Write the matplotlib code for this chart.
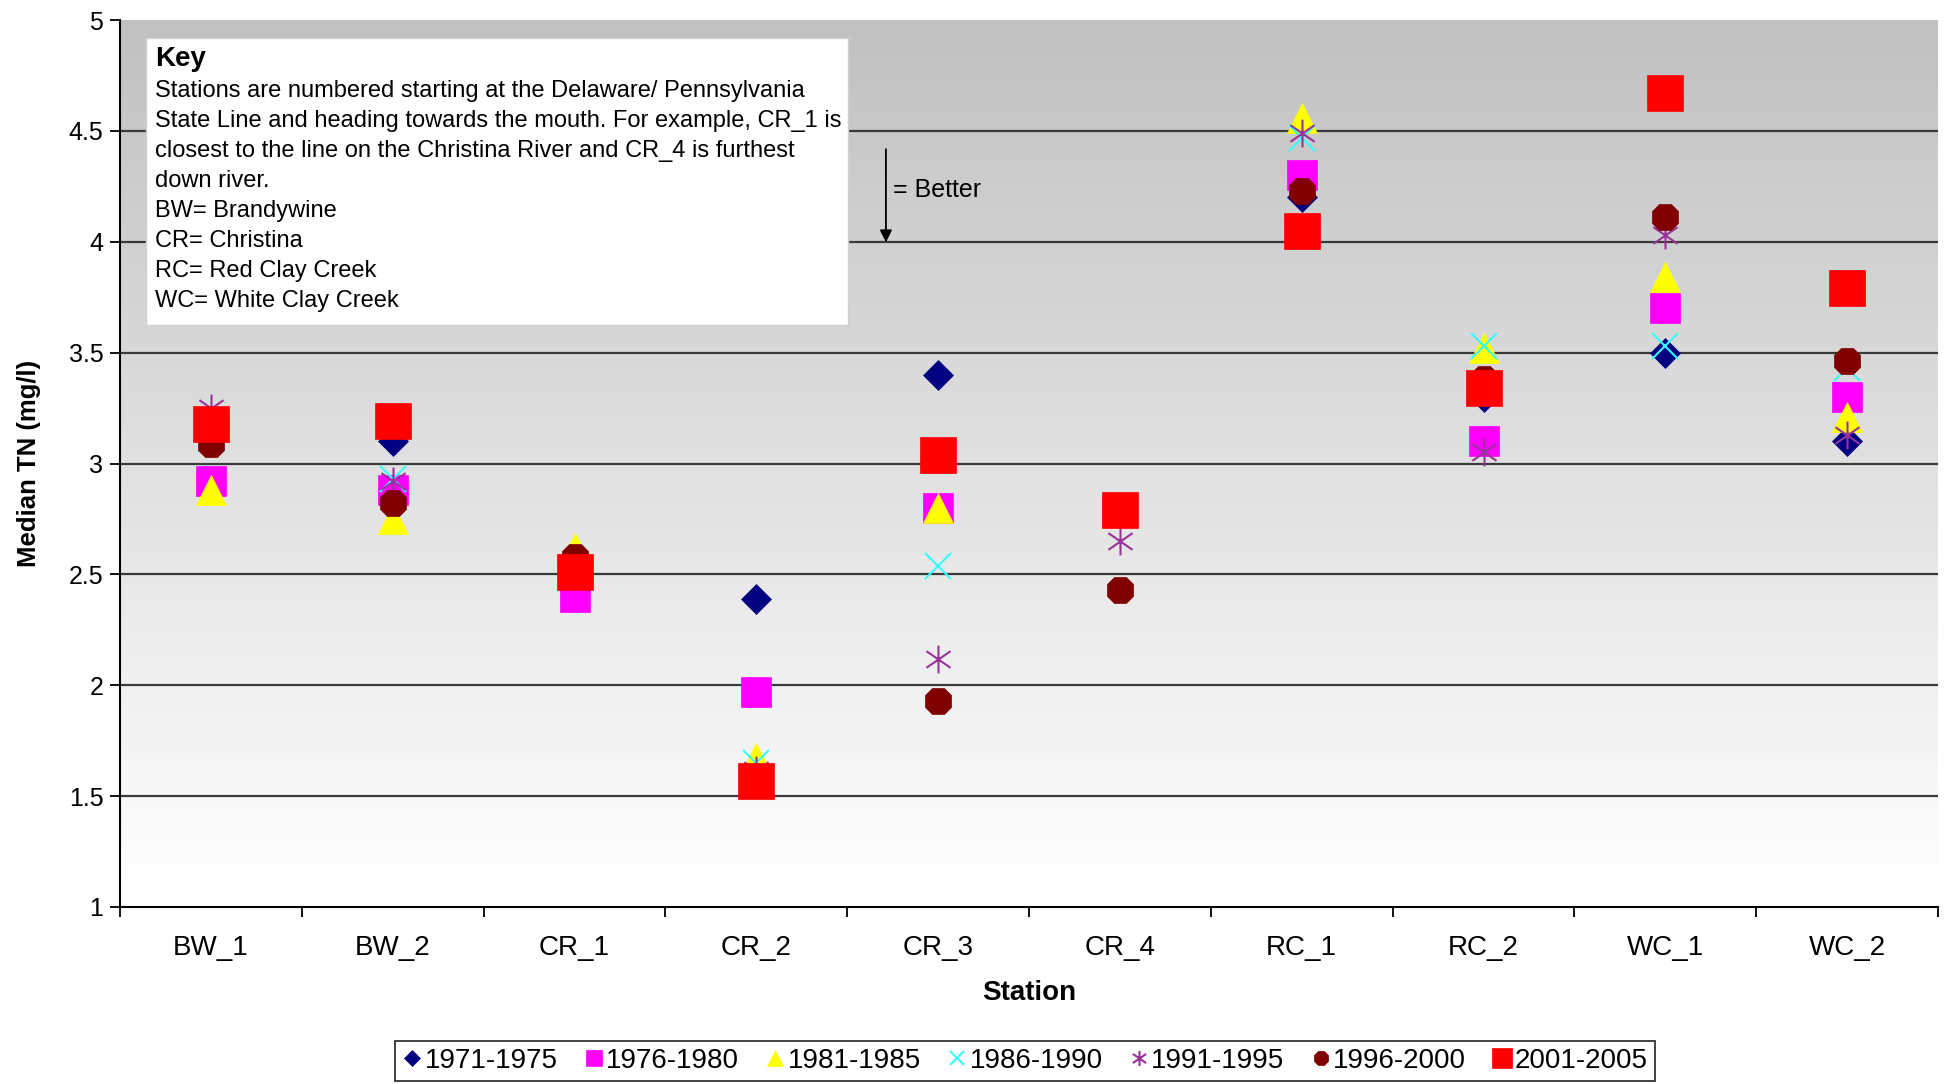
import numpy as np
import matplotlib
matplotlib.use("Agg")
import matplotlib.pyplot as plt
from matplotlib.path import Path
from matplotlib.patches import Rectangle

plt.rcParams['font.family'] = ['Liberation Sans', 'DejaVu Sans']

stations = ["BW_1", "BW_2", "CR_1", "CR_2", "CR_3", "CR_4", "RC_1", "RC_2", "WC_1", "WC_2"]
nan = np.nan
s1971_1975 = [2.90, 3.10, 2.52, 2.39, 3.40, nan, 4.20, 3.30, 3.50, 3.10]
s1976_1980 = [2.92, 2.88, 2.40, 1.97, 2.80, nan, 4.30, 3.10, 3.70, 3.30]
s1981_1985 = [2.88, 2.75, 2.62, 1.67, 2.80, nan, 4.56, 3.52, 3.84, 3.21]
s1986_1990 = [3.11, 2.93, 2.53, 1.65, 2.54, nan, 4.47, 3.53, 3.53, 3.43]
s1991_1995 = [3.25, 2.92, 2.56, 1.62, 2.12, 2.65, 4.49, 3.05, 4.03, 3.13]
s1996_2000 = [3.09, 2.82, 2.58, 1.58, 1.93, 2.43, 4.23, 3.38, 4.11, 3.46]
s2001_2005 = [3.18, 3.19, 2.51, 1.57, 3.04, 2.79, 4.05, 3.34, 4.67, 3.79]
series_labels = ["1971-1975", "1976-1980", "1981-1985", "1986-1990", "1991-1995", "1996-2000", "2001-2005"]
series_values = [s1971_1975, s1976_1980, s1981_1985, s1986_1990, s1991_1995, s1996_2000, s2001_2005]

key_title = "Key"
key_lines = [
    "Stations are numbered starting at the Delaware/ Pennsylvania",
    "State Line and heading towards the mouth. For example, CR_1 is",
    "closest to the line on the Christina River and CR_4 is furthest",
    "down river.",
    "BW= Brandywine",
    "CR= Christina",
    "RC= Red Clay Creek",
    "WC= White Clay Creek",
]

W, H = 1946, 1084
fig = plt.figure(figsize=(W / 100, H / 100), dpi=100)
ax = fig.add_axes([120 / W, 1 - 907 / H, 1818 / W, 887 / H])

x = np.arange(len(stations))
ax.set_xlim(-0.5, len(stations) - 0.5)
ax.set_ylim(1, 5)

# gradient background
grad = np.linspace(1.0, 0.753, 256).reshape(-1, 1)
ax.imshow(grad, extent=(-0.5, len(stations) - 0.5, 1, 5), origin='lower',
          cmap='gray', vmin=0, vmax=1, aspect='auto', zorder=0)

for v in np.arange(1.5, 5.0, 0.5):
    ax.axhline(v, color='#3a3a3a', lw=1.6, zorder=1)

# asterisk marker
ast = Path([(0, -1), (0, 1), (-0.87, -0.6), (0.87, 0.6), (-0.87, 0.6), (0.87, -0.6)],
           [Path.MOVETO, Path.LINETO, Path.MOVETO, Path.LINETO, Path.MOVETO, Path.LINETO])

styles = [
    dict(marker='D', ms=15, mfc='#000080', mec='#000080', mew=0.5),
    dict(marker='s', ms=21, mfc='#FF00FF', mec='#FF00FF', mew=0.5),
    dict(marker='^', ms=22, mfc='#FFFF00', mec='#FFFF00', mew=0.5),
    dict(marker='x', ms=19, mfc='none', mec='#33FFFF', mew=1.5),
    dict(marker=ast, ms=20, mfc='none', mec='#993399', mew=1.5),
    dict(marker='8', ms=21, mfc='#800000', mec='#800000', mew=0.5),
    dict(marker='s', ms=26, mfc='#FF0000', mec='#FF0000', mew=0.5),
]
handles = []
for lab, vals, st in zip(series_labels, series_values, styles):
    h, = ax.plot(x, vals, ls='none', label=lab, zorder=3, **st)
    handles.append(h)

# axes styling
for sp in ['top', 'right']:
    ax.spines[sp].set_visible(False)
ax.spines['left'].set_linewidth(1.5)
ax.spines['bottom'].set_linewidth(1.5)
ax.spines['left'].set_zorder(4)
ax.spines['bottom'].set_zorder(4)

ax.set_yticks(np.arange(1, 5.01, 0.5))
ax.set_yticklabels(["1", "1.5", "2", "2.5", "3", "3.5", "4", "4.5", "5"])
ax.tick_params(axis='y', direction='out', length=7, width=1.3, labelsize=18, pad=5)
ax.set_xticks(x)
ax.set_xticklabels(stations)
ax.set_xticks(np.arange(-0.5, len(stations), 1.0), minor=True)
ax.tick_params(axis='x', which='major', length=0, labelsize=20, pad=20)
ax.tick_params(axis='x', which='minor', direction='out', length=7, width=1.3)

ax.set_ylabel("Median TN (mg/l)", fontsize=18.5, fontweight='bold', labelpad=20)
ax.set_xlabel("Station", fontsize=20, fontweight='bold', labelpad=14)

# key box
fig.patches.append(Rectangle((146 / W, 1 - 325 / H), 702 / W, 287 / H,
                             transform=fig.transFigure, facecolor='white',
                             edgecolor='#d0d0d0', lw=1, zorder=5))
fig.text(155 / W, 1 - 59 / H, key_title, fontsize=20, fontweight='bold',
         va='center', ha='left', zorder=6)
for i, line in enumerate(key_lines):
    fig.text(155 / W, 1 - (91 + 30 * i) / H, line, fontsize=17,
             va='center', ha='left', zorder=6)

# better arrow
ax.annotate("", xy=(3.713, 3.985), xytext=(3.713, 4.43),
            arrowprops=dict(arrowstyle='-|>', color='black', lw=1.3, mutation_scale=18),
            zorder=6)
ax.text(3.75, 4.235, "= Better", fontsize=18, va='center', ha='left', zorder=6)

leg = fig.legend(handles=handles, loc='center', ncol=7,
                 bbox_to_anchor=(1025 / W, 1 - 1061 / H), frameon=True,
                 fontsize=20, markerscale=0.55, handlelength=0.7, handletextpad=0.1,
                 columnspacing=0.95, borderpad=0.25, fancybox=False)
leg.get_frame().set_edgecolor('black')
leg.get_frame().set_linewidth(1.3)

fig.savefig("out.png", dpi=100)
